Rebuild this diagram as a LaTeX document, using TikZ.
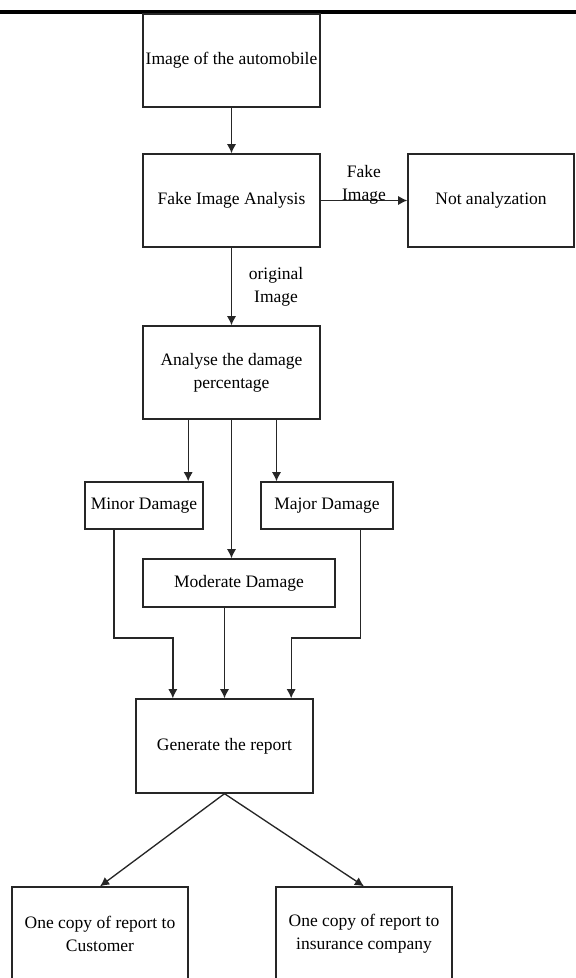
\documentclass[tikz,border=0pt]{standalone}
\usepackage{fontspec}
\setmainfont{Liberation Serif}
\usetikzlibrary{arrows.meta}

\begin{document}
\begin{tikzpicture}[x=0.6pt,y=-0.6pt,>={Latex[length=5.5pt,width=5.5pt]},
	font=\fontsize{10.5}{13.8}\selectfont,
	bloc/.style={draw=black!85,line width=0.8pt,rectangle,align=center,inner sep=1pt},
	fl/.style={->,draw=black!85,line width=0.8pt}]
	\def \u {0.6pt}%un pixel
	\useasboundingbox (0,0) rectangle (576,978);
	\clip (0,0) rectangle (576,978);
	\draw[line width=2.4pt] (0,12) -- (576,12);
	% boites
	\node[bloc,minimum width=177*\u,minimum height=93*\u] (img) at (231.5,60.5) {Image of the automobile};
	\node[bloc,minimum width=177*\u,minimum height=93*\u] (fake) at (231.5,200.5) {Fake Image Analysis};
	\node[bloc,minimum width=166*\u,minimum height=93*\u] (notan) at (491,200.5) {Not analyzation};
	\node[bloc,minimum width=177*\u,minimum height=93*\u] (anal) at (231.5,372.5) {Analyse the damage\\percentage};
	\node[bloc,minimum width=118*\u,minimum height=47*\u] (minor) at (144,505.5) {Minor Damage};
	\node[bloc,minimum width=132*\u,minimum height=47*\u] (major) at (327,505.5) {Major Damage};
	\node[bloc,minimum width=192*\u,minimum height=48*\u] (moder) at (239,583) {Moderate Damage};
	\node[bloc,minimum width=177*\u,minimum height=94*\u] (report) at (224.5,746) {Generate the report};
	\node[bloc,minimum width=176*\u,minimum height=93*\u] (cust) at (100,933.5) {One copy of report to\\Customer};
	\node[bloc,minimum width=176*\u,minimum height=93*\u] (ins) at (364,933.5) {One copy of report to\\insurance company};
	% fleches
	\draw[fl] (img) -- (fake);
	\draw[fl] (fake) -- node[above,inner sep=0,yshift=-2.5pt,align=center] {Fake\\Image} (notan);
	\draw[fl] (fake) -- node[right=10pt,inner sep=0,align=center] {original\\Image} (anal);
	\draw[fl] ([xshift=-26pt]anal.south) -- ([xshift=-26pt]anal.south |- minor.north);
	\draw[fl] (anal.south) -- (anal.south |- moder.north);
	\draw[fl] ([xshift=27pt]anal.south) -- ([xshift=27pt]anal.south |- major.north);
	\coordinate (jn) at (0,638);
	\draw[fl] ([xshift=-18pt]minor.south) |- ([xshift=-31pt]report.north |- jn) -- ([xshift=-31pt]report.north);
	\draw[fl] (report.north |- moder.south) -- (report.north);
	\draw[fl] ([xshift=20pt]major.south) |- ([xshift=40pt]report.north |- jn) -- ([xshift=40pt]report.north);
	\draw[fl] (report.south) -- (cust.north);
	\draw[fl] (report.south) -- (ins.north);
\end{tikzpicture}
\end{document}
